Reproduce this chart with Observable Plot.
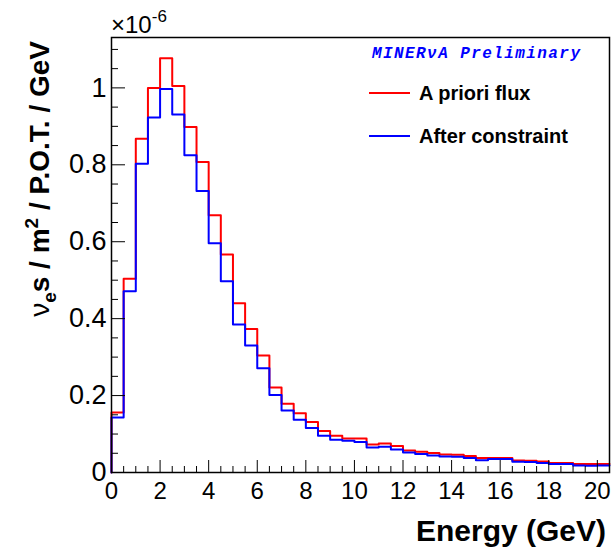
<!DOCTYPE html>
<html><head><meta charset="utf-8">
<script src="https://cdn.jsdelivr.net/npm/d3@7"></script>
<script src="https://cdn.jsdelivr.net/npm/@observablehq/plot@0.6"></script>
<style>body{margin:0;background:#fff;} svg{display:block}</style>
</head><body><div id="chart"></div>
<script>
// Bin lower edges (GeV), bin width 0.5
const binLow = [0,0.5,1,1.5,2,2.5,3,3.5,4,4.5,5,5.5,6,6.5,7,7.5,8,8.5,9,9.5,10,10.5,11,11.5,12,12.5,13,13.5,14,14.5,15,15.5,16,16.5,17,17.5,18,18.5,19,19.5,20];
const binHigh = 20.5;
// values in units of 1e-6 nu_e / m^2 / POT / GeV
const aPriori = [0.156,0.504,0.868,1.000,1.077,1.005,0.898,0.807,0.669,0.567,0.440,0.373,0.304,0.221,0.179,0.154,0.131,0.108,0.0956,0.0885,0.0885,0.073,0.0755,0.0687,0.057,0.054,0.0505,0.047,0.046,0.0427,0.038,0.038,0.038,0.031,0.0305,0.0287,0.025,0.0245,0.022,0.022,0.022];
const afterConstraint = [0.143,0.471,0.803,0.923,0.997,0.931,0.825,0.732,0.596,0.497,0.385,0.330,0.271,0.2015,0.161,0.137,0.116,0.0956,0.085,0.0826,0.079,0.065,0.067,0.060,0.052,0.048,0.0443,0.0417,0.041,0.0375,0.032,0.035,0.035,0.028,0.027,0.025,0.022,0.022,0.018,0.0174,0.018];
const xTicks = [0,2,4,6,8,10,12,14,16,18,20];
const yTicks = [0,0.2,0.4,0.6,0.8,1];
const yTickLabels = ["0","0.2","0.4","0.6","0.8","1"];

const xMinor = d3.range(0, 20.51, 0.5).filter(v => Math.abs(v/2 - Math.round(v/2)) > 1e-9);
const yMinor = d3.range(0, 1.13, 0.05).filter(v => Math.abs(v/0.2 - Math.round(v/0.2)) > 1e-6);

function steps(vals) {
  const pts = [{x: binLow[0], y: 0}];
  binLow.forEach((lo, i) => pts.push({x: lo, y: vals[i]}));
  pts.push({x: binHigh, y: vals[vals.length - 1]});
  return pts;
}

const font = "'Liberation Sans', Arial, Helvetica, sans-serif";
const plot = Plot.plot({
  width: 614, height: 551,
  marginLeft: 111, marginRight: 5, marginTop: 37, marginBottom: 79,
  style: {fontFamily: font, fontSize: "24px", color: "#000", background: "#fff"},
  x: {domain: [0, 20.5]},
  y: {domain: [0, 1.131]},
  marks: [
    Plot.line(steps(aPriori), {x: "x", y: "y", curve: "step-after", stroke: "#ff0000", strokeWidth: 2}),
    Plot.line(steps(afterConstraint), {x: "x", y: "y", curve: "step-after", stroke: "#0000ff", strokeWidth: 2}),
    Plot.axisX({ticks: xTicks, tickSize: -12, text: null, label: null}),
    Plot.axisX({ticks: xMinor, tickSize: -6, text: null, label: null}),
    Plot.axisX({ticks: xTicks, tickSize: 0, tickPadding: 9, label: null, fontSize: 24, tickFormat: d => String(d)}),
    Plot.axisY({ticks: yTicks, tickSize: -14, text: null, label: null}),
    Plot.axisY({ticks: yMinor, tickSize: -7, text: null, label: null}),
    Plot.axisY({ticks: yTicks, tickSize: 0, tickPadding: 5, label: null, fontSize: 27, tickFormat: (d, i) => yTickLabels[i]}),
    Plot.frame({stroke: "#000", strokeWidth: 1.5})
  ]
});
document.getElementById("chart").appendChild(plot);

const svg = d3.select(plot);
// exponent
const ex = svg.append("text").attr("x", 111).attr("y", 33).attr("text-anchor", "start").attr("font-family", font).attr("font-size", 24).attr("fill", "#000");
ex.append("tspan").text("×10");
ex.append("tspan").attr("dy", -11).attr("font-size", 17).text("-6");

// y title
const yt = svg.append("text").attr("transform", "rotate(-90)").attr("x", -41).attr("y", 49)
  .attr("text-anchor", "end").attr("font-family", font).attr("font-size", 28).attr("font-weight", "bold").attr("fill", "#000");
yt.append("tspan").attr("font-weight", "normal").text("ν");
yt.append("tspan").attr("dy", 7).attr("font-size", 19).text("e");
yt.append("tspan").attr("dy", -7).text("s / m");
yt.append("tspan").attr("dy", -11).attr("font-size", 19).text("2");
yt.append("tspan").attr("dy", 11).text(" / P.O.T. / GeV");

// x title
svg.append("text").attr("x", 606).attr("y", 541).attr("text-anchor", "end")
  .attr("font-family", font).attr("font-size", 30).attr("font-weight", "bold").attr("fill", "#000").text("Energy (GeV)");

// legend
svg.append("text").attr("x", 372).attr("y", 58).attr("text-anchor", "start").attr("font-family", "'Liberation Mono', 'Courier New', monospace")
  .attr("font-size", 16).attr("font-weight", "bold").attr("font-style", "italic").attr("fill", "#0000ff")
  .attr("textLength", 208).attr("lengthAdjust", "spacing").text("MINERνA Preliminary");
const legendItems = [{label: "A priori flux", color: "#ff0000", y: 93}, {label: "After constraint", color: "#0000ff", y: 136}];
legendItems.forEach(it => {
  svg.append("line").attr("x1", 369).attr("x2", 410).attr("y1", it.y).attr("y2", it.y).attr("stroke", it.color).attr("stroke-width", 2);
  svg.append("text").attr("x", 419).attr("y", it.y + 7).attr("text-anchor", "start").attr("font-family", font).attr("font-size", 20).attr("font-weight", "bold").attr("fill", "#000").text(it.label);
});
</script>
</body></html>
